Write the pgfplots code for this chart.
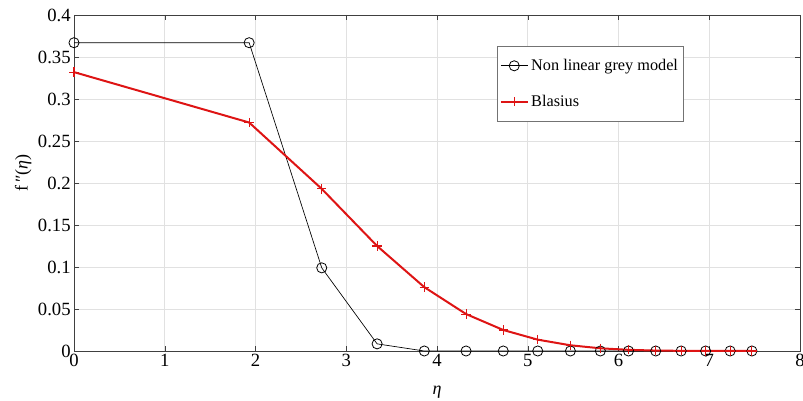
\documentclass[border=0pt]{standalone}
\usepackage{fontspec}
\setmainfont{Liberation Serif}
\usepackage{pgfplots}
\pgfplotsset{compat=1.18}

\definecolor{blasred}{RGB}{222,20,20}
\definecolor{gridgray}{RGB}{225,225,225}

\begin{document}
\begin{tikzpicture}
\begin{axis}[
    scale only axis,
    width=544.5pt, height=252pt,
    xmin=0, xmax=8, ymin=0, ymax=0.4,
    xtick={0,1,...,8},
    ytick={0,0.05,...,0.4},
    yticklabels={0,0.05,0.1,0.15,0.2,0.25,0.3,0.35,0.4},
    /pgf/number format/assume math mode=true,
    tick align=inside,
    major tick length=4pt,
    axis line style={black!75},
    tick style={black!75},
    grid=major,
    major grid style={gridgray, line width=0.5pt},
    tick label style={font=\fontsize{14pt}{16pt}\selectfont},
    xticklabel style={yshift=1pt},
    yticklabel style={xshift=1pt},
    label style={font=\fontsize{13.5pt}{16pt}\selectfont},
    xlabel={\textit{η}},
    ylabel={f\,\char"2033(\textit{η})},
    xlabel style={at={(rel axis cs:0.5,0)}, anchor=center, yshift=-31pt},
    ylabel style={at={(rel axis cs:0,0.53)}, anchor=center, yshift=38pt},
    legend style={
        at={(axis cs:4.66,0.363)}, anchor=north west,
        draw=black!55, line width=0.6pt,
        font=\fontsize{12.2pt}{14pt}\selectfont,
        row sep=13pt, inner xsep=2pt, inner ysep=7.5pt,
        cells={anchor=west},
    },
    legend image code/.code={
        \draw[mark repeat=2,mark phase=2,#1]
        plot coordinates {(0cm,0cm) (0.35cm,0cm) (0.7cm,0cm)};
    },
    clip=false,
]
\addplot[black, line width=0.5pt, mark=o, mark size=3.8pt,
         mark options={line width=0.6pt}] coordinates {
    (0,0.367) (1.93,0.367) (2.73,0.099) (3.34,0.0085) (3.86,0)
    (4.32,0) (4.73,0) (5.11,0) (5.47,0) (5.80,0) (6.11,0)
    (6.41,0) (6.69,0) (6.96,0) (7.23,0) (7.47,0)
};
\addlegendentry{Non linear grey model}
\addplot[blasred, line width=1.5pt, mark=+, mark size=3.5pt,
         mark options={line width=0.8pt}] coordinates {
    (0,0.332) (1.93,0.272) (2.73,0.193) (3.34,0.125) (3.86,0.076)
    (4.32,0.044) (4.73,0.025) (5.11,0.0135) (5.47,0.0068) (5.80,0.0032)
    (6.11,0.0014) (6.41,0.0005) (6.69,0.0002) (6.96,0.0001) (7.23,0) (7.47,0)
};
\addlegendentry{Blasius}
\coordinate (bl) at (rel axis cs:0,0);
\coordinate (tr) at (rel axis cs:1,1);
\end{axis}
\pgfresetboundingbox
\path[use as bounding box] ([xshift=-55.5pt,yshift=-37.5pt]bl) rectangle ([xshift=2.25pt,yshift=11.25pt]tr);
\end{tikzpicture}
\end{document}
